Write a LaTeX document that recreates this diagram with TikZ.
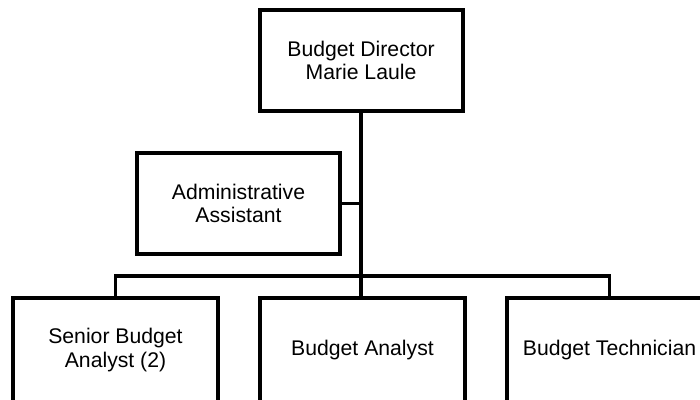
\documentclass[tikz,border=0pt]{standalone}
\usepackage{fontspec}
\setmainfont{Liberation Sans}
\begin{document}
\begin{tikzpicture}[x=1pt,y=-1pt,
  box/.style={draw=black,line width=4pt,rectangle,minimum width=203pt,minimum height=101pt,
    align=center,inner sep=0pt,font=\fontsize{21.2}{23.5}\selectfont},
  lowbox/.style={box,minimum width=205pt,minimum height=104pt},
  conn/.style={draw=black,line width=3.3pt}]
\useasboundingbox (0,0) rectangle (700,399);
\node[box] (dir) at (361,60.5) {Budget Director\\Marie Laule};
\node[box] (adm) at (238.5,203.5) {Administrative\\Assistant};
\node[lowbox] (sen) at (115.5,350) {Senior Budget\\Analyst (2)};
\node[lowbox] (ana) at (362.5,350) {Budget Analyst};
\node[lowbox] (tec) at (609.5,350) {Budget Technician};
\coordinate (bus) at (0,276);
\draw[conn] (dir.south) -- (dir.south |- ana.north);
\draw[conn] (adm.east) -- (adm.east -| dir.south);
\draw[conn] (sen.north) -- (sen.north |- bus) -- (tec.north |- bus) -- (tec.north);
\end{tikzpicture}
\end{document}
